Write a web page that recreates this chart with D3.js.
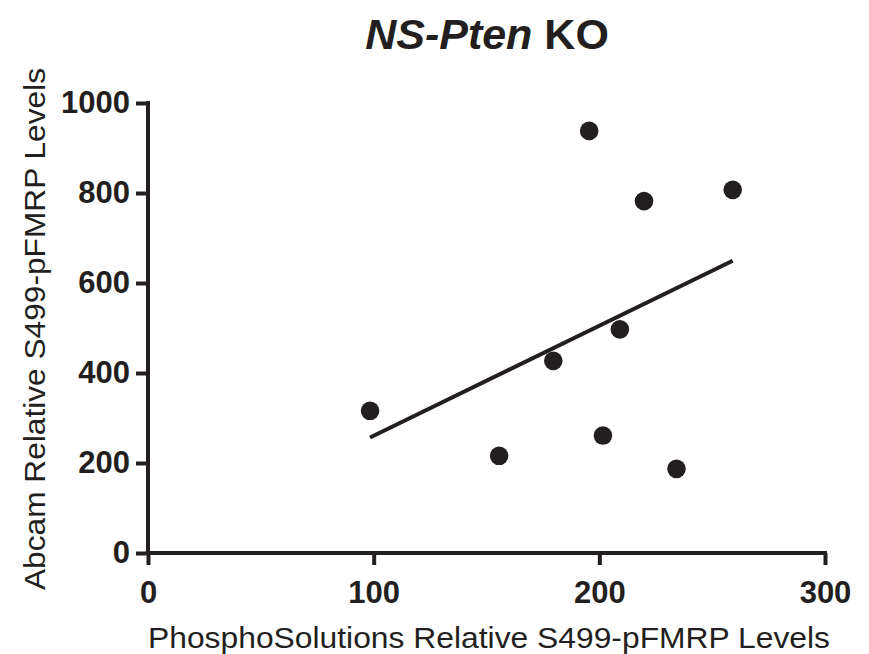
<!DOCTYPE html>
<html>
<head>
<meta charset="utf-8">
<script src="https://cdn.jsdelivr.net/npm/d3@7"></script>
<style>
  html, body { margin: 0; padding: 0; background: #ffffff; }
  svg { display: block; }
  text { font-family: "Liberation Sans", Arial, Helvetica, sans-serif; fill: #231f20; }
</style>
</head>
<body>
<svg id="chart" width="869" height="654"></svg>
<script>
// ---- data ----
const xValues = [98.4, 155.6, 179.6, 195.5, 201.6, 209.1, 219.8, 234.2, 259.1];
const yValues = [316, 216, 427, 938, 261, 497, 782, 187, 807];
const xTicks = [0, 100, 200, 300];
const yTicks = [0, 200, 400, 600, 800, 1000];
const xDomain = [0, 300];
const yDomain = [0, 1000];
const titleItalic = "NS-Pten";
const titleRest = " KO";
const xTitle = "PhosphoSolutions Relative S499-pFMRP Levels";
const yTitle = "Abcam Relative S499-pFMRP Levels";

const ink = "#231f20";
const svg = d3.select("#chart");
const margin = { left: 148, right: 869 - 825, top: 103, bottom: 654 - 553 };

const x = d3.scaleLinear().domain(xDomain).range([margin.left, 869 - margin.right]);
const y = d3.scaleLinear().domain(yDomain).range([654 - margin.bottom, margin.top]);

// axes
const xAxis = svg.append("g")
  .attr("transform", `translate(0,${y(0)})`)
  .call(d3.axisBottom(x).tickValues(xTicks).tickSize(12).tickPadding(16).tickFormat(d3.format("d")));
const yAxis = svg.append("g")
  .attr("transform", `translate(${x(0)},0)`)
  .call(d3.axisLeft(y).tickValues(yTicks).tickSize(12).tickPadding(6).tickFormat(d3.format("d")));

[xAxis, yAxis].forEach(g => {
  g.select(".domain").attr("stroke", ink).attr("stroke-width", 4)
   .attr("stroke-linecap", "square");
  g.selectAll(".tick line").attr("stroke", ink).attr("stroke-width", 4);
  g.selectAll(".tick text")
    .style("font-family", '"Liberation Sans", Arial, sans-serif')
    .style("font-weight", "bold").style("font-size", "31px").attr("fill", ink);
});
xAxis.select(".domain").attr("d", `M${x(xDomain[0])},0H${x(xDomain[1])}`);
yAxis.select(".domain").attr("d", `M0,${y(yDomain[0])}V${y(yDomain[1])}`);

// regression line (least squares fit of the data)
const n = xValues.length;
const mx = d3.mean(xValues), my = d3.mean(yValues);
let sxy = 0, sxx = 0;
for (let i = 0; i < n; i++) {
  sxy += (xValues[i] - mx) * (yValues[i] - my);
  sxx += (xValues[i] - mx) ** 2;
}
const slope = sxy / sxx, intercept = my - slope * mx;
const [xmin, xmax] = d3.extent(xValues);
svg.append("line")
  .attr("x1", x(xmin)).attr("y1", y(intercept + slope * xmin))
  .attr("x2", x(xmax)).attr("y2", y(intercept + slope * xmax))
  .attr("stroke", ink).attr("stroke-width", 4);

// points
svg.append("g").selectAll("circle")
  .data(xValues.map((v, i) => [v, yValues[i]]))
  .join("circle")
  .attr("cx", d => x(d[0])).attr("cy", d => y(d[1]))
  .attr("r", 9.3).attr("fill", ink);

// title
const t = svg.append("text")
  .attr("x", 487).attr("y", 49)
  .attr("text-anchor", "middle")
  .style("font-size", "43px").style("font-weight", "bold");
t.append("tspan").style("font-style", "italic").text(titleItalic);
t.append("tspan").text(titleRest);

// axis titles
svg.append("text")
  .attr("x", 148).attr("y", 648)
  .attr("textLength", 682).attr("lengthAdjust", "spacingAndGlyphs")
  .style("font-size", "29px")
  .text(xTitle);

svg.append("text")
  .attr("transform", `translate(45,${590}) rotate(-90)`)
  .attr("textLength", 522).attr("lengthAdjust", "spacingAndGlyphs")
  .style("font-size", "29px")
  .text(yTitle);
</script>
</body>
</html>
